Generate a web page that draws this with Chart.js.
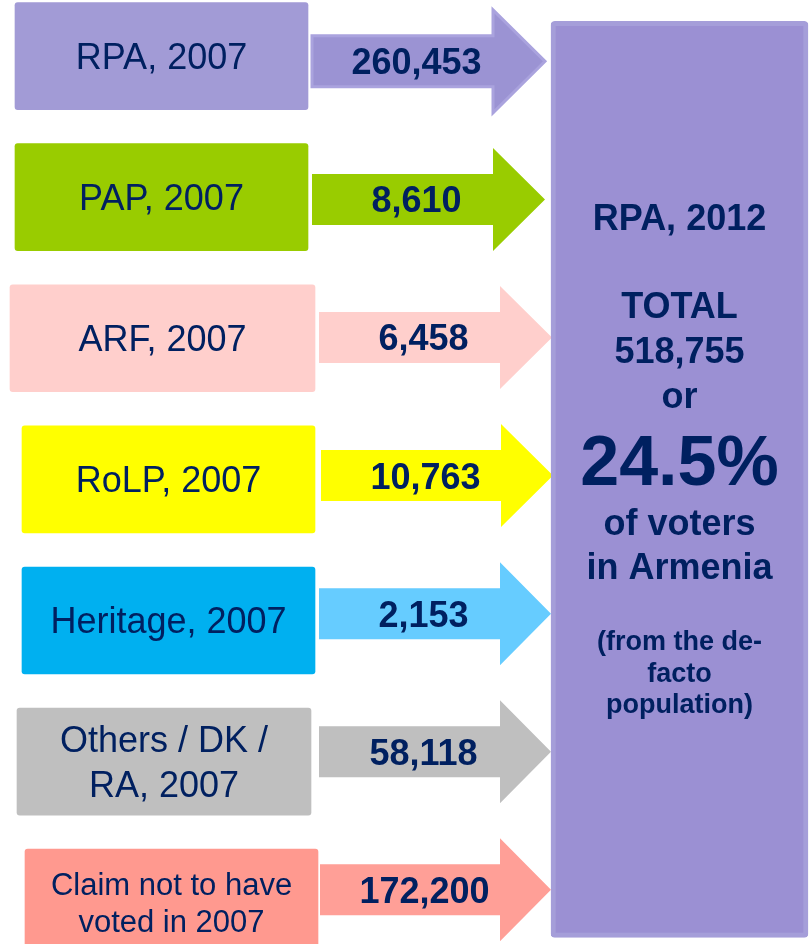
<!DOCTYPE html>
<html>
<head>
<meta charset="utf-8">
<script src="https://cdn.jsdelivr.net/npm/chart.js@4.4.1/dist/chart.umd.min.js"></script>
<style>
html,body{margin:0;padding:0;background:#ffffff;}
#wrap{width:812px;height:944px;position:relative;}
</style>
</head>
<body>
<div id="wrap"><canvas id="c"></canvas></div>
<script>
// ---------- DATA ----------
const sourceLabels = [
  "RPA, 2007",
  "PAP, 2007",
  "ARF, 2007",
  "RoLP, 2007",
  "Heritage, 2007",
  ["Others / DK /", "RA, 2007"],
  ["Claim not to have", "voted in 2007"]
];
const transferValues = [260453, 8610, 6458, 10763, 2153, 58118, 172200];
const targetLabel = "RPA, 2012";
const totalLabel = "TOTAL";
const voterSharePct = 24.5;
const shareNotes = ["of voters", "in Armenia"];
const footnoteLines = ["(from the de-", "facto", "population)"];

// ---------- STYLE ----------
const boxColors   = ["#a29bd6", "#99cc00", "#ffcfcc", "#ffff00", "#00b0f0", "#bfbfbf", "#ff998f"];
const arrowColors = ["#9b93d3", "#99cc00", "#ffcfcc", "#ffff00", "#66ccff", "#bfbfbf", "#ff9f97"];
const arrowBorders = ["#aaa3de", null, null, null, null, null, null];
const TEXT = "#002060";
const FONT = "'Liberation Sans', Arial, Helvetica, sans-serif";

// ---------- LAYOUT (x in layout units of the hidden x scale) ----------
const L = {
  boxX0: [15, 15, 10, 22, 22, 17, 25],
  boxX1: [308, 308, 315, 315, 315, 311, 318],
  boxThickness: 107,
  arrowStart: [312, 312, 319, 321, 319, 319, 320],
  arrowNeck:  [493, 493, 500, 501, 500, 500, 500],
  arrowTip:   [545, 545, 552, 553, 551, 551, 551],
  bodyHalf: 25.5,
  headHalf: 51.5,
  valueOffset: 104.5,
  targetX: [551, 808],
  targetThickness: 916,
  srcFont: [36, 36, 36, 36, 36, 36, 31],
  srcLineGap: [0, 0, 0, 0, 0, 45, 37],
  // target text: [font size, baseline offset from target box top]
  targetLines: [
    [36, 209], [36, 297], [36, 342], [36, 387], [70, 464],
    [36, 514], [36, 558], [27, 629], [27, 661], [27, 692]
  ]
};

const nRows = sourceLabels.length;
const total = transferValues.reduce((a, b) => a + b, 0);
const fmt = v => v.toLocaleString('en-US');

const flowPlugin = {
  id: 'flows',
  beforeDatasetsDraw(chart) {
    const { ctx, scales } = chart;
    const x = scales.x, ya = scales.ya;
    ctx.save();
    transferValues.forEach((v, i) => {
      const cy = ya.getPixelForValue(i);
      const x0 = x.getPixelForValue(L.arrowStart[i]);
      const xn = x.getPixelForValue(L.arrowNeck[i]);
      const xt = x.getPixelForValue(L.arrowTip[i]);
      ctx.beginPath();
      ctx.moveTo(x0, cy - L.bodyHalf);
      ctx.lineTo(xn, cy - L.bodyHalf);
      ctx.lineTo(xn, cy - L.headHalf);
      ctx.lineTo(xt, cy);
      ctx.lineTo(xn, cy + L.headHalf);
      ctx.lineTo(xn, cy + L.bodyHalf);
      ctx.lineTo(x0, cy + L.bodyHalf);
      ctx.closePath();
      ctx.fillStyle = arrowColors[i];
      ctx.fill();
      if (arrowBorders[i]) {
        ctx.lineWidth = 3;
        ctx.lineJoin = 'miter';
        ctx.strokeStyle = arrowBorders[i];
        ctx.stroke();
      }
    });
    ctx.restore();
  },
  afterDatasetsDraw(chart) {
    const { ctx, scales } = chart;
    const x = scales.x, ya = scales.ya;
    ctx.save();
    ctx.fillStyle = TEXT;
    ctx.textAlign = 'center';
    ctx.textBaseline = 'alphabetic';

    // value labels on arrows
    transferValues.forEach((v, i) => {
      const cy = ya.getPixelForValue(i);
      const cx = x.getPixelForValue(L.arrowStart[i] + L.valueOffset);
      ctx.font = `bold 36px ${FONT}`;
      ctx.fillText(fmt(v), cx, cy + 36 * 0.36);
    });

    // source box labels
    const meta = chart.getDatasetMeta(0);
    meta.data.forEach((el, i) => {
      const p = el.getProps(['x', 'y', 'base'], true);
      const cx = (p.x + p.base) / 2;
      const size = L.srcFont[i];
      ctx.font = `${size}px ${FONT}`;
      const lines = Array.isArray(sourceLabels[i]) ? sourceLabels[i] : [sourceLabels[i]];
      const gap = L.srcLineGap[i];
      lines.forEach((t, k) => {
        const off = (k - (lines.length - 1) / 2) * gap;
        ctx.fillText(t, cx, p.y + off + size * 0.36);
      });
    });

    // target box text
    const tmeta = chart.getDatasetMeta(1);
    const tel = tmeta.data[0];
    const tp = tel.getProps(['x', 'y', 'base'], true);
    const tcx = (tp.x + tp.base) / 2;
    const top = tp.y - L.targetThickness / 2;
    const texts = [targetLabel, totalLabel, fmt(total), "or", voterSharePct + "%",
                   shareNotes[0], shareNotes[1], footnoteLines[0], footnoteLines[1], footnoteLines[2]];
    texts.forEach((t, k) => {
      const [size, off] = L.targetLines[k];
      ctx.font = `bold ${size}px ${FONT}`;
      ctx.fillText(t, tcx, top + off);
    });
    ctx.restore();
  }
};

new Chart(document.getElementById('c'), {
  type: 'bar',
  data: {
    labels: sourceLabels.map(l => Array.isArray(l) ? l.join(' ') : l),
    datasets: [
      {
        label: '2007 vote',
        data: sourceLabels.map((_, i) => ({ x: [L.boxX0[i], L.boxX1[i]], y: i })),
        backgroundColor: boxColors,
        borderWidth: 0,
        borderRadius: 3,
        borderSkipped: false,
        barThickness: L.boxThickness,
        grouped: false,
        yAxisID: 'y'
      },
      {
        label: targetLabel,
        data: [{ x: L.targetX, y: (nRows - 1) / 2 }],
        backgroundColor: '#9b90d3',
        borderColor: '#a59ed9',
        borderWidth: 5,
        borderRadius: 4,
        borderSkipped: false,
        barThickness: L.targetThickness,
        grouped: false,
        yAxisID: 'y'
      }
    ]
  },
  options: {
    indexAxis: 'y',
    responsive: true,
    maintainAspectRatio: false,
    animation: false,
    layout: { padding: 0 },
    scales: {
      x: { type: 'linear', min: 0, max: 812, offset: false, display: false },
      y: { type: 'linear', axis: 'y', min: -0.3976, max: 6.293, reverse: true, offset: false, display: false },
      ya: { type: 'linear', axis: 'y', min: -0.444, max: 6.392, reverse: true, offset: false, display: false }
    },
    plugins: {
      legend: { display: false },
      tooltip: { enabled: false }
    }
  },
  plugins: [flowPlugin]
});
</script>
</body>
</html>
